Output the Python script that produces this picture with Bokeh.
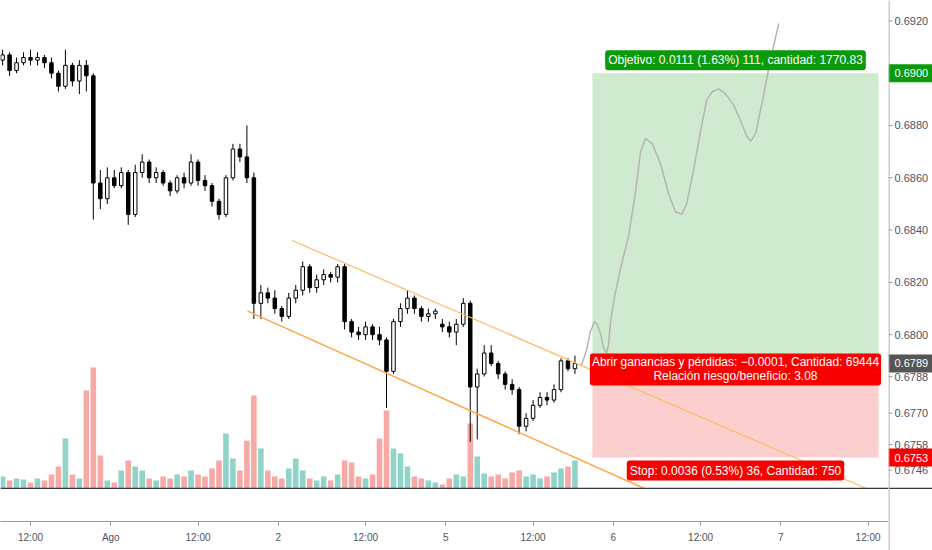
from bokeh.plotting import figure
from bokeh.layouts import row
from bokeh.models import Range1d, FixedTicker, Label, Span, ColumnDataSource
from bokeh.core.properties import value
from bokeh.embed import file_html
from bokeh.resources import INLINE

# ---------------- data ----------------
# hourly bars, x = trading hours counted from 31 Jul 00:00 (weekend removed)
hours = [8, 9, 10, 11, 12, 13, 14, 15, 16, 17, 18, 19, 20, 21, 22, 23, 24, 25, 26, 27,
         28, 29, 30, 31, 32, 33, 34, 35, 36, 37, 38, 39, 40, 41, 42, 43, 44, 45, 46, 47,
         48, 49, 50, 51, 52, 53, 54, 55, 56, 57, 58, 59, 60, 61, 62, 63, 64, 65, 66, 67,
         68, 69, 70, 71, 72, 73, 74, 75, 76, 77, 78, 79, 80, 81, 82, 83, 84, 85, 86, 87,
         88, 89, 90]
opens = [0.6905, 0.6907, 0.6901, 0.6904, 0.6906, 0.6905, 0.6906, 0.6904, 0.6900, 0.6895,
         0.6903, 0.6897, 0.6903, 0.6899, 0.6858, 0.6852, 0.6860, 0.6857, 0.6862, 0.6846,
         0.6862, 0.6866, 0.6860, 0.6862, 0.6858, 0.6855, 0.6860, 0.6858, 0.6866, 0.6859,
         0.6857, 0.6851, 0.6846, 0.6860, 0.6871, 0.6868, 0.6860, 0.6812, 0.6816, 0.6814,
         0.6810, 0.6807, 0.6814, 0.6817, 0.6826, 0.6818, 0.6821, 0.6823, 0.6822, 0.6826,
         0.6805, 0.6801, 0.6800, 0.6803, 0.6800, 0.6798, 0.6786, 0.6805, 0.6810, 0.6814,
         0.6810, 0.6807, 0.6808, 0.6804, 0.6803, 0.6801, 0.6804, 0.6812, 0.6780, 0.6785,
         0.6793, 0.6789, 0.6785, 0.6781, 0.6779, 0.6765, 0.6768, 0.6773, 0.6776, 0.6775,
         0.6779, 0.6790, 0.6787]
highs = [0.6909, 0.6908, 0.6906, 0.6908, 0.6909, 0.6908, 0.6907, 0.6906, 0.6901, 0.6909,
         0.6904, 0.6905, 0.6905, 0.6900, 0.6863, 0.6864, 0.6863, 0.6864, 0.6863, 0.6865,
         0.6869, 0.6867, 0.6864, 0.6863, 0.6859, 0.6861, 0.6862, 0.6869, 0.6867, 0.6861,
         0.6858, 0.6852, 0.6861, 0.6873, 0.6873, 0.6880, 0.6862, 0.6819, 0.6818, 0.6817,
         0.6811, 0.6816, 0.6819, 0.6828, 0.6827, 0.6823, 0.6825, 0.6824, 0.6827, 0.6827,
         0.6806, 0.6803, 0.6805, 0.6804, 0.6803, 0.6799, 0.6806, 0.6812, 0.6817, 0.6815,
         0.6811, 0.6810, 0.6810, 0.6806, 0.6805, 0.6806, 0.6814, 0.6813, 0.6787, 0.6796,
         0.6796, 0.6790, 0.6786, 0.6783, 0.6780, 0.6770, 0.6775, 0.6778, 0.6778, 0.6781,
         0.6791, 0.6791, 0.6792]
lows = [0.6903, 0.6899, 0.6900, 0.6903, 0.6903, 0.6903, 0.6902, 0.6898, 0.6893, 0.6894,
        0.6895, 0.6892, 0.6893, 0.6844, 0.6848, 0.6850, 0.6856, 0.6856, 0.6842, 0.6845,
        0.6860, 0.6858, 0.6858, 0.6857, 0.6853, 0.6854, 0.6856, 0.6857, 0.6857, 0.6855,
        0.6849, 0.6844, 0.6845, 0.6859, 0.6866, 0.6858, 0.6806, 0.6806, 0.6812, 0.6808,
        0.6805, 0.6806, 0.6812, 0.6815, 0.6816, 0.6816, 0.6819, 0.6820, 0.6820, 0.6802,
        0.6799, 0.6798, 0.6798, 0.6798, 0.6796, 0.6772, 0.6785, 0.6803, 0.6808, 0.6808,
        0.6805, 0.6805, 0.6806, 0.6801, 0.6799, 0.6796, 0.6803, 0.6759, 0.6760, 0.6784,
        0.6788, 0.6783, 0.6779, 0.6777, 0.6762, 0.6763, 0.6767, 0.6772, 0.6773, 0.6774,
        0.6778, 0.6786, 0.6785]
closes = [0.6907, 0.6901, 0.6904, 0.6906, 0.6905, 0.6906, 0.6904, 0.6900, 0.6895, 0.6903,
          0.6897, 0.6903, 0.6899, 0.6858, 0.6852, 0.6860, 0.6857, 0.6862, 0.6846, 0.6862,
          0.6866, 0.6860, 0.6862, 0.6858, 0.6855, 0.6860, 0.6858, 0.6866, 0.6859, 0.6857,
          0.6851, 0.6846, 0.6860, 0.6871, 0.6868, 0.6860, 0.6812, 0.6816, 0.6814, 0.6810,
          0.6807, 0.6814, 0.6817, 0.6826, 0.6818, 0.6821, 0.6823, 0.6822, 0.6826, 0.6805,
          0.6801, 0.6800, 0.6803, 0.6800, 0.6798, 0.6786, 0.6805, 0.6810, 0.6814, 0.6810,
          0.6807, 0.6808, 0.6809, 0.6803, 0.6801, 0.6804, 0.6812, 0.6780, 0.6785, 0.6793,
          0.6789, 0.6785, 0.6781, 0.6779, 0.6765, 0.6768, 0.6773, 0.6776, 0.6775, 0.6779,
          0.6790, 0.6787, 0.6789]
volumes = [12, 8, 10, 9, 6, 10, 8, 14, 22, 50, 14, 10, 98, 121, 33, 8, 6, 18, 28, 22,
           18, 10, 8, 12, 10, 14, 12, 18, 14, 12, 20, 28, 55, 30, 18, 48, 93, 40, 18, 12,
           10, 20, 30, 18, 10, 8, 12, 8, 14, 28, 26, 12, 10, 14, 50, 78, 40, 35, 22, 12,
           10, 8, 6, 4, 10, 14, 12, 65, 32, 15, 12, 14, 10, 16, 18, 12, 14, 10, 12, 16,
           20, 22, 28]

# projected path (grey curve)
fc_hours = [90.9, 91.65, 92.2, 92.8, 93.2, 93.7, 94.1, 94.5, 94.8, 95.1, 95.7, 96.5, 97.7,
            98.7, 99.4, 100.1, 101.1, 102.3, 103.4, 104.4, 105.3, 106.0, 107.0, 108.0,
            108.9, 109.7, 110.6, 111.6, 112.7, 113.7, 114.6, 115.2, 115.9, 116.9, 118.0, 119.2]
fc_price = [0.6788, 0.6794, 0.6801, 0.6805, 0.6804, 0.6800, 0.6795, 0.6793, 0.6796, 0.6805,
            0.6815, 0.6825, 0.6838, 0.6855, 0.6870, 0.6875, 0.6873, 0.6865, 0.6854, 0.6847,
            0.6846, 0.6850, 0.6863, 0.6878, 0.6890, 0.6893, 0.6894, 0.6892, 0.6888, 0.6882,
            0.6876, 0.6874, 0.6877, 0.6890, 0.6905, 0.6919]

# descending channel
upper_hours = [49.5, 131.9]
upper_price = [0.6836, 0.6741]
lower_hours = [43.1, 100.1]
lower_price = [0.6809, 0.6741]

# long position tool
pos_left, pos_right = 92.5, 133.5
entry_price = 0.6789
target_price = 0.6900
stop_price = 0.6753
target_text = "Objetivo: 0.0111 (1.63%) 111, cantidad: 1770.83"
entry_text = "Abrir ganancias y pérdidas: \u22120.0001, Cantidad: 69444\nRelación riesgo/beneficio: 3.08"
stop_text = "Stop: 0.0036 (0.53%) 36, Cantidad: 750"

# price scale (labels placed where the reference shows them)
price_ticks = [0.6920, 0.6900, 0.6880, 0.6860, 0.6840, 0.6820, 0.6800, 0.67840, 0.6770, 0.6758, 0.67482]
price_tick_labels = ["0.6920", "0.6900", "0.6880", "0.6860", "0.6840", "0.6820", "0.6800",
                     "0.6788", "0.6770", "0.6758", "0.6746"]
flag_prices = [target_price, entry_price, stop_price]
flag_labels = ["0.6900", "0.6789", "0.6753"]
# time scale (positions as shown in the reference)
time_ticks = [12, 23.5, 36, 47.5, 60, 71.5, 84, 95.5, 108, 119.5, 132]
time_tick_labels = ["12:00", "Ago", "12:00", "2", "12:00", "5", "12:00", "6", "12:00", "7", "12:00"]

# ---------------- styling ----------------
FONT = "Liberation Sans"
UP_VOL = "#8fd3c9"
DN_VOL = "#f6a9a5"
GREEN = "#0b9a0b"
RED = "#f70000"
AXIS = "#9a9ca3"
LABEL = "#50535e"
PANE_BOTTOM = 0.67412
TOP_PRICE = 0.69278
PX = 1 / 26150.0           # price per pixel
FRAME_W, FRAME_H, SCALE_W, TOTAL_H = 888, 521, 44, 550

up = [c >= o for o, c in zip(opens, closes)]
src = ColumnDataSource(dict(
    x=hours, o=opens, h=highs, l=lows, c=closes, v=volumes,
    top=[max(o, c) for o, c in zip(opens, closes)],
    bot=[min(o, c) for o, c in zip(opens, closes)],
    body=["#ffffff" if u else "#000000" for u in up],
    vcol=[UP_VOL if u else DN_VOL for u in up],
))

x0 = 7.70
p = figure(frame_width=FRAME_W, frame_height=FRAME_H,
           x_range=Range1d(x0, x0 + FRAME_W / 6.98),
           y_range=Range1d(TOP_PRICE - FRAME_H * PX, TOP_PRICE),
           output_backend="svg", toolbar_location=None, y_axis_location=None,
           min_border_left=0, min_border_top=0, min_border_bottom=TOTAL_H - FRAME_H,
           min_border_right=0, background_fill_color="white", border_fill_color="white")
p.outline_line_color = None
p.grid.visible = False
vol_px_below = (PANE_BOTTOM - p.y_range.start) / PX
p.extra_y_ranges = {"vol": Range1d(-vol_px_below, FRAME_H - vol_px_below)}

# position tool areas
p.quad(left=[pos_left], right=[pos_right], bottom=[entry_price], top=[target_price],
       fill_color="#cfeacf", line_color=None)
p.quad(left=[pos_left], right=[pos_right], bottom=[stop_price], top=[entry_price],
       fill_color="#fccfcf", line_color=None)

# volume
p.vbar(x="x", top="v", bottom=0, width=0.8, source=src, y_range_name="vol",
       fill_color="vcol", line_color=None)

# candles
p.segment(x0="x", y0="h", x1="x", y1="l", source=src, line_color="#000000", line_width=1)
p.vbar(x="x", top="top", bottom="bot", width=0.5, source=src,
       fill_color="body", line_color="#000000", line_width=1)

# projection and channel
p.line(fc_hours, fc_price, line_color="#b4b4b4", line_width=1.5)
p.line(upper_hours, upper_price, line_color="#ffb866", line_width=1.2)
p.line(lower_hours, lower_price, line_color="#ffa647", line_width=1.5)

# empty strip under the price pane
p.quad(left=[p.x_range.start], right=[p.x_range.end], bottom=[p.y_range.start], top=[PANE_BOTTOM],
       fill_color="white", line_color=None)
p.add_layout(Span(location=PANE_BOTTOM, dimension="width", line_color="#363a45", line_width=1.2))

# time axis
xa = p.xaxis[0]
xa.ticker = FixedTicker(ticks=time_ticks)
xa.major_label_overrides = dict(zip(time_ticks, time_tick_labels))
xa.axis_line_color = AXIS
xa.major_tick_line_color = AXIS
xa.major_tick_out = 4
xa.major_tick_in = 0
xa.minor_tick_line_color = None
xa.major_label_standoff = 6
xa.major_label_text_font = FONT
xa.major_label_text_font_size = "10px"
xa.major_label_text_color = LABEL

# position tool labels
mid = (pos_left + pos_right) / 2
common = dict(text_font=FONT, text_color="white", text_align="center", border_radius=3,
              text_font_size="12px")
p.add_layout(Label(x=mid, y=target_price, text=target_text, text_baseline="bottom", y_offset=3,
                   background_fill_color=GREEN, padding=3, **common))
p.add_layout(Label(x=mid, y=entry_price, text=entry_text, text_baseline="top", y_offset=10,
                   background_fill_color=RED, padding=2, text_line_height=1.0, **common))
p.add_layout(Label(x=mid, y=stop_price, text=stop_text, text_baseline="top", y_offset=-3,
                   background_fill_color=RED, padding=3, **common))

# ---------------- price scale panel ----------------
s = figure(frame_width=SCALE_W, frame_height=TOTAL_H,
           x_range=Range1d(0, SCALE_W), y_range=Range1d(TOP_PRICE - TOTAL_H * PX, TOP_PRICE),
           output_backend="svg", toolbar_location=None, x_axis_location=None, y_axis_location=None,
           min_border_left=0, min_border_top=0, min_border_bottom=0, min_border_right=0,
           background_fill_color="white", border_fill_color="white")
s.outline_line_color = None
s.grid.visible = False
s.add_layout(Span(location=PANE_BOTTOM, dimension="width", line_color="#363a45", line_width=1.2))
s.add_layout(Span(location=0.5, dimension="height", line_color=AXIS, line_width=1))
n = len(price_ticks)
s.segment(x0=[0] * n, y0=price_ticks, x1=[4] * n, y1=price_ticks, line_color=AXIS, line_width=1)
s.text(x=[6] * n, y=price_ticks, text=price_tick_labels, text_font=value(FONT),
       text_font_size=value("11px"), text_baseline="middle", text_align="left", text_color=LABEL)
s.rect(x=[SCALE_W / 2] * 3, y=flag_prices, width=SCALE_W, height=18, height_units="screen",
       fill_color=[GREEN, "#555555", RED], line_color=None)
s.text(x=[6] * 3, y=flag_prices, text=flag_labels, text_font=value(FONT),
       text_font_size=value("11px"), text_baseline="middle", text_align="left", text_color="white")

layout = row(p, s, spacing=0)
open("out.html", "w").write(file_html(layout, INLINE))
